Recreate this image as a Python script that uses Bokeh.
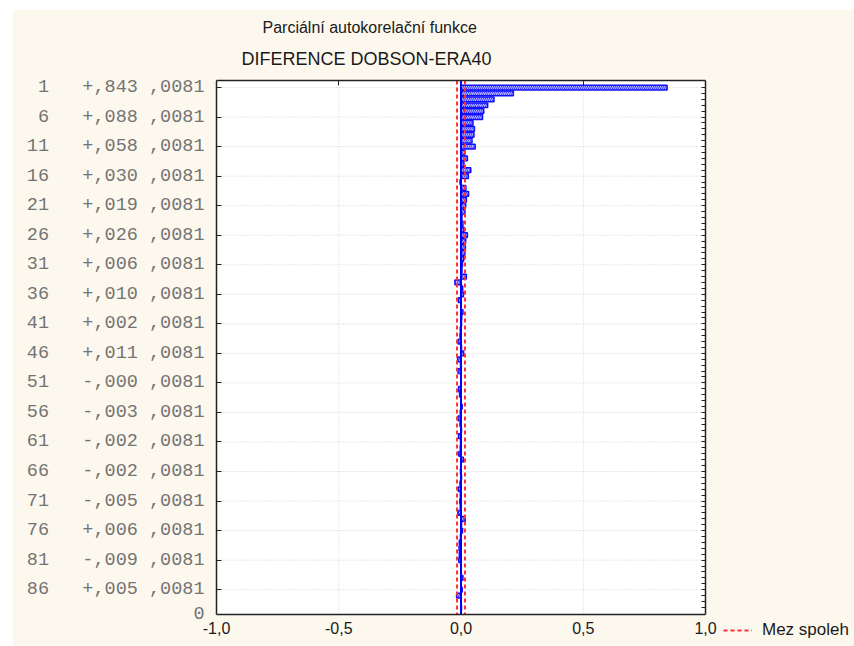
from bokeh.plotting import figure
from bokeh.models import (Range1d, FixedTicker, LinearAxis, Legend, LegendItem,
                          Spacer, ColumnDataSource, Title)
from bokeh.layouts import row, column
from bokeh.embed import file_html
from bokeh.resources import INLINE

# ---- data ----
lags = list(range(1, 90))
pacf = [0.843, 0.214, 0.135, 0.109, 0.093, 0.088, 0.049, 0.055, 0.053, 0.045,
        0.058, 0.016, 0.026, 0.012, 0.040, 0.030, -0.004, 0.020, 0.031, 0.022,
        0.019, 0.016, 0.004, 0.008, 0.012, 0.026, 0.019, 0.018, 0.016, 0.011,
        0.006, 0.004, 0.022, -0.025, 0.007, 0.010, -0.011, 0.001, 0.008, 0.003,
        0.002, -0.003, -0.004, -0.012, 0.002, 0.011, -0.014, -0.002, -0.012, -0.001,
        -0.0004, -0.010, -0.006, 0.001, 0.005, -0.003, -0.012, -0.004, 0.002, -0.010,
        -0.002, -0.003, -0.009, 0.010, -0.001, -0.002, 0.002, -0.004, -0.011, -0.003,
        -0.005, -0.003, -0.013, 0.017, 0.002, 0.006, -0.002, -0.007, -0.008, -0.007,
        -0.009, -0.001, 0.001, 0.008, -0.001, 0.005, -0.018, 0.001, 0.002]
std_err = 0.0081
label_lags = [1, 6, 11, 16, 21, 26, 31, 36, 41, 46, 51, 56, 61, 66, 71, 76, 81, 86]
x_ticks = [-1.0, -0.5, 0.0, 0.5, 1.0]
x_tick_labels = ["-1,0", "-0,5", "0,0", "0,5", "1,0"]
x_grid = [-0.5, 0.0, 0.5]
title_lines = ["Parciální autokorelační funkce", "DIFERENCE DOBSON-ERA40"]
legend_label = "Mez spoleh"

conf = 2 * std_err
X_MIN, X_MAX = x_ticks[0], x_ticks[-1]
Y_TOP, Y_BOTTOM = -0.19, 90.2          # extent of the plot box (lag units)
X_VIEW_START, X_VIEW_END = -1.0859, 1.6094   # frame a bit wider than the box
Y_VIEW_END = 95.62                    # frame continues below the box (legend area)

CREAM = "#fdf8ee"
NB = "\u00a0"
AX = "#222222"


def fmt_label(lag):
    v = pacf[lag - 1]
    sign = "+" if v >= 0 else "-"
    digits = f"{abs(v):.3f}"[2:]
    se_txt = f"{std_err:.4f}"[2:]
    return f"{lag:>2}".replace(" ", NB) + NB * 3 + f"{sign},{digits}" + NB + "," + se_txt


p = figure(frame_width=659, frame_height=566, output_backend="svg", toolbar_location=None,
           x_range=Range1d(X_VIEW_START, X_VIEW_END), y_range=Range1d(Y_VIEW_END, Y_TOP),
           min_border_left=183, min_border_right=0, min_border_top=71,
           min_border_bottom=0)
p.background_fill_color = CREAM
p.border_fill_color = CREAM
p.outline_line_color = None
p.grid.visible = False

# white plot box
p.quad(left=[X_MIN], right=[X_MAX], top=[Y_TOP], bottom=[Y_BOTTOM],
       fill_color="white", line_color=None, level="image")

# dotted grid lines, limited to the box
p.segment(x0=x_grid, x1=x_grid, y0=[Y_TOP] * len(x_grid), y1=[Y_BOTTOM] * len(x_grid),
          line_color="#d0d0d0", line_dash="1 2", line_width=1, level="underlay")
p.segment(x0=[X_MIN] * len(label_lags), x1=[X_MAX] * len(label_lags),
          y0=label_lags, y1=label_lags,
          line_color="#d0d0d0", line_dash="1 2", line_width=1, level="underlay")

# bottom x axis, fixed at the box bottom
xa = p.xaxis[0]
xa.fixed_location = Y_BOTTOM
xa.bounds = (X_MIN, X_MAX)
xa.ticker = FixedTicker(ticks=x_ticks)
xa.major_label_overrides = {t: l for t, l in zip(x_ticks, x_tick_labels)}
xa.major_label_text_font = "Liberation Sans"
xa.major_label_text_font_size = "16px"
xa.major_label_text_color = "#1a1a1a"
xa.major_tick_in = 0
xa.major_tick_out = 0
xa.minor_tick_line_color = None
xa.axis_line_color = AX
xa.axis_line_width = 1.5
xa.major_label_standoff = 8

# left y axis: only the PACF labels (line and ticks drawn by the box-edge axis)
ya = p.yaxis[0]
ya.bounds = (Y_TOP, Y_BOTTOM)
ya.ticker = FixedTicker(ticks=label_lags + [Y_BOTTOM])
ov = {lag: fmt_label(lag) for lag in label_lags}
ov[Y_BOTTOM] = "0"
ya.major_label_overrides = ov
ya.major_label_text_font = "Liberation Mono"
ya.major_label_text_font_size = "18.5px"
ya.major_label_text_color = "#747474"
ya.major_tick_in = 0
ya.major_tick_out = 0
ya.major_tick_line_color = None
ya.minor_tick_line_color = None
ya.axis_line_color = None
ya.major_label_standoff = -9

# right edge of the box: tick every lag, pointing inwards
ra = LinearAxis(ticker=FixedTicker(ticks=[], minor_ticks=lags), bounds=(Y_TOP, Y_BOTTOM),
                fixed_location=X_MAX, minor_tick_in=0, minor_tick_out=4,
                minor_tick_line_color=AX, major_tick_line_color=None,
                axis_line_color=AX, axis_line_width=1.5, major_label_standoff=0)
p.add_layout(ra, "left")
# left edge of the box: ticks at the labelled lags, pointing inwards
la = LinearAxis(ticker=FixedTicker(ticks=[], minor_ticks=label_lags), bounds=(Y_TOP, Y_BOTTOM),
                fixed_location=X_MIN, minor_tick_in=5, minor_tick_out=0,
                minor_tick_line_color=AX, major_tick_line_color=None,
                axis_line_color=AX, axis_line_width=1.5, major_label_standoff=0)
p.add_layout(la, "left")

# top axis (ticks only)
ta = LinearAxis(ticker=FixedTicker(ticks=[], minor_ticks=x_ticks), bounds=(X_MIN, X_MAX),
                minor_tick_in=5, minor_tick_out=0, minor_tick_line_color=AX,
                major_tick_line_color=None, axis_line_color=AX,
                axis_line_width=1.5, major_label_standoff=0)
p.add_layout(ta, "above")

# titles (nearest to frame added first)
p.add_layout(Title(text=title_lines[1], align="left", offset=46, standoff=23,
                   text_font="Liberation Sans", text_font_size="18px",
                   text_font_style="normal", text_color="#1a1a1a"), "above")
p.add_layout(Title(text=title_lines[0], align="left", offset=67, standoff=0,
                   text_font="Liberation Sans", text_font_size="16px",
                   text_font_style="normal", text_color="#1a1a1a"), "above")

# bars
src = ColumnDataSource(dict(lag=lags, val=pacf))
p.hbar(y="lag", left=0, right="val", height=0.8, source=src,
       fill_color="#b4b4ff", line_color="#1010ff", line_width=1.5,
       hatch_pattern="right_diagonal_line", hatch_color="#4040ff",
       hatch_scale=4, hatch_weight=1)

# zero line
p.segment(x0=[0], x1=[0], y0=[Y_TOP], y1=[Y_BOTTOM], line_color="#0000ff", line_width=2)

# confidence limits
lim = p.segment(x0=[-conf, conf], x1=[-conf, conf], y0=[Y_TOP, Y_TOP],
                y1=[Y_BOTTOM, Y_BOTTOM], line_color="#ff3030", line_width=2,
                line_dash="4 3")

legend = Legend(items=[LegendItem(label=legend_label, renderers=[lim])],
                location=(528, 6), padding=0, margin=0, border_line_color=None,
                background_fill_alpha=0, glyph_width=29, label_standoff=10,
                label_text_font="Liberation Sans", label_text_font_size="17px",
                label_text_color="#1a1a1a")
p.add_layout(legend, "center")

layout = column(Spacer(width=854, height=9), row(Spacer(width=12, height=566), p))
open("out.html", "w").write(file_html(layout, INLINE))
